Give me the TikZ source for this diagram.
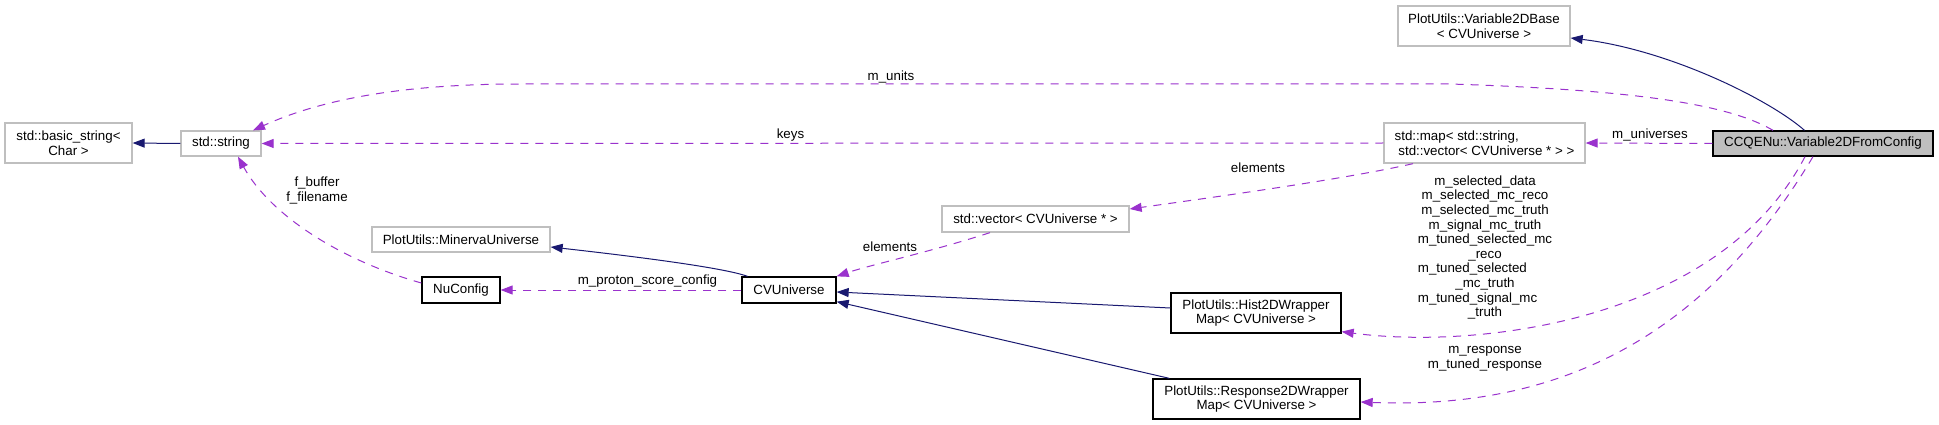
\documentclass[tikz,border=0pt]{standalone}
\usepackage{fontspec}
\setmainfont{Liberation Sans}
\usetikzlibrary{arrows.meta}
\definecolor{navy}{HTML}{191970}
\definecolor{orchid}{HTML}{9A32CD}
\definecolor{boxgray}{HTML}{BFBFBF}
\newcommand\lblfont{\fontsize{13.33}{14.6}\selectfont}
\newcommand\tunedline[1]{\rlap{#1}\phantom{m\_tuned\_selected\_mc}}
\tikzset{
  txtbase/.style={inner sep=0pt, font=\lblfont, align=center},
  graybox/.style={txtbase, draw=boxgray, line width=1.3pt, fill=white},
  blackbox/.style={txtbase, draw=black, line width=1.3pt, fill=white},
  focusbox/.style={txtbase, draw=black, line width=1.3pt, fill=boxgray},
  inherit/.style={draw=navy, line width=1pt, -{Triangle[length=12pt,width=9pt]}},
  usage/.style={draw=orchid, line width=1pt, dash pattern=on 8pt off 7pt, -{Triangle[length=12pt,width=9pt]}},
  elabel/.style={inner sep=0pt, font=\lblfont, align=center}
}
\begin{document}
\begin{tikzpicture}[x=1pt, y=-1pt]
\useasboundingbox[fill=white] (0,0) rectangle (1939,425);

% nodes
\node[graybox, minimum width=127pt, minimum height=40pt] (basic) at (68.5,143) {std::basic\_string<\\Char >};
\node[graybox, minimum width=80pt, minimum height=25pt] (str) at (221,143.5) {std::string};
\node[graybox, minimum width=178pt, minimum height=25pt] (min) at (461,239.5) {PlotUtils::MinervaUniverse};
\node[blackbox, minimum width=78pt, minimum height=26pt] (nuc) at (461,290) {NuConfig};
\node[blackbox, minimum width=94pt, minimum height=26pt] (cvu) at (789,290) {CVUniverse};
\node[graybox, minimum width=187pt, minimum height=26pt] (vec) at (1035.5,219) {std::vector< CVUniverse * >};
\node[blackbox, minimum width=170pt, minimum height=40pt] (hist) at (1256,313) {PlotUtils::Hist2DWrapper\\Map< CVUniverse >};
\node[blackbox, minimum width=207pt, minimum height=40pt] (resp) at (1256.5,399) {PlotUtils::Response2DWrapper\\Map< CVUniverse >};
\node[graybox, minimum width=172pt, minimum height=40pt] (v2d) at (1484,26) {PlotUtils::Variable2DBase\\< CVUniverse >};
\node[graybox, minimum width=201pt, minimum height=40pt, align=left] (map) at (1484.5,143) {std::map< std::string,\\\ std::vector< CVUniverse * > >};
\node[focusbox, minimum width=220pt, minimum height=25pt] (ccq) at (1823,143.5) {CCQENu::Variable2DFromConfig};

% inheritance
\draw[inherit] (str.west) -- (basic.east);
\draw[inherit] ([xshift=-18.5pt]ccq.north) .. controls (1770,100) and (1670,50) .. ([yshift=-12pt]v2d.east);
\draw[inherit] ([xshift=-41.5pt]cvu.north) .. controls (725,268) and (640,257) .. ([yshift=-7.5pt]min.east);
\draw[inherit] ([yshift=5pt]hist.west) -- ([yshift=-2pt]cvu.east);
\draw[inherit] ([xshift=17pt]resp.north west) -- ([yshift=2pt]cvu.south east);

% usage
\draw[usage] ([xshift=-50pt]ccq.north) .. controls (1730,105) and (1640,90) .. (1450,84) -- (520,84) .. controls (400,84) and (320,100) .. ([xshift=32pt]str.north);
\node[elabel] (lunits) at (891,77) {m\_units};

\draw[usage] (map.west) -- (str.east);
\node[elabel] (lkeys) at (790.5,135) {keys};

\draw[usage] (ccq.west) -- (map.east);
\node[elabel] (luniv) at (1650,135) {m\_universes};

\draw[usage] ([xshift=-71.5pt]map.south) .. controls (1350,178) and (1230,195) .. ([yshift=10pt]vec.east);
\node[elabel] (lel1) at (1258,168) {elements};

\draw[usage] ([xshift=-45.5pt]vec.south) .. controls (930,252) and (870,265) .. (cvu.north east);
\node[elabel] (lel2) at (890,247) {elements};

\draw[usage] (cvu.west) -- (nuc.east);
\node[elabel] (lproton) at (647.5,281.5) {m\_proton\_score\_config};

\draw[usage] ([yshift=7pt]nuc.west) .. controls (340,260) and (270,215) .. ([xshift=17pt]str.south);
\node[elabel] (lfbuf) at (317,190.5) {f\_buffer\\f\_filename};

\draw[usage] ([xshift=-18pt]ccq.south) .. controls (1720,320) and (1480,350) .. ([yshift=2pt]hist.south east);
\node[elabel] (lhist) at (1485,247.5) {m\_selected\_data\\m\_selected\_mc\_reco\\m\_selected\_mc\_truth\\m\_signal\_mc\_truth\\m\_tuned\_selected\_mc\\\_reco\\\tunedline{m\_tuned\_selected}\\\_mc\_truth\\\tunedline{m\_tuned\_signal\_mc}\\\_truth};

\draw[usage] ([xshift=-10pt]ccq.south) .. controls (1705,337) and (1560,410) .. ([yshift=-3pt]resp.east);
\node[elabel] (lresp) at (1485,358.5) {m\_response\\m\_tuned\_response};
\end{tikzpicture}
\end{document}
